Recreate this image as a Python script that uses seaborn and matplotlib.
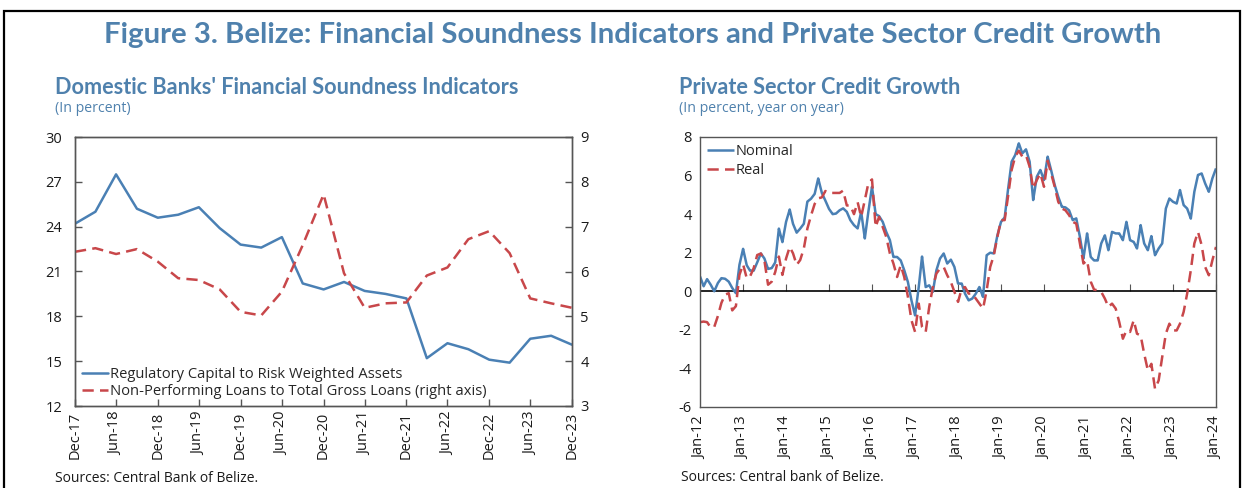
import numpy as np
import pandas as pd
import matplotlib
matplotlib.use("Agg")
import matplotlib.pyplot as plt
import matplotlib.dates as mdates
from matplotlib.patches import Rectangle
import seaborn as sns

# ---- data: left panel, quarterly Dec-17 .. Dec-23 ----
fsi_dates = pd.date_range("2017-12-31", periods=25, freq="QE")
car = [24.2, 25.0, 27.5, 25.2, 24.6, 24.8, 25.3, 23.9, 22.8, 22.6, 23.3, 20.2, 19.8,
       20.3, 19.7, 19.5, 19.2, 15.2, 16.2, 15.8, 15.1, 14.9, 16.5, 16.7, 16.1]
npl = [6.44, 6.52, 6.39, 6.50, 6.22, 5.85, 5.81, 5.60, 5.10, 5.02, 5.55, 6.59, 7.72,
       5.96, 5.19, 5.29, 5.31, 5.91, 6.09, 6.72, 6.90, 6.41, 5.40, 5.29, 5.19]
fsi_labels = ["Regulatory Capital to Risk Weighted Assets",
              "Non-Performing Loans to Total Gross Loans (right axis)"]

# ---- data: right panel, monthly Jan-12 .. Jan-24 ----
credit_dates = pd.date_range("2012-01-01", periods=145, freq="MS")
nominal = [0.77, 0.26, 0.63, 0.34, 0.0, 0.43, 0.68, 0.65, 0.5, 0.17, -0.1, 1.37,
           2.2, 1.35, 1.07, 1.07, 1.5, 1.96, 1.7, 1.16, 1.2, 1.5, 3.25, 2.55,
           3.6, 4.24, 3.5, 3.04, 3.25, 3.5, 4.65, 4.8, 5.05, 5.85, 5.1, 4.7,
           4.27, 4.0, 4.03, 4.2, 4.3, 4.12, 3.69, 3.43, 3.26, 4.12, 2.74, 4.12,
           5.42, 4.0, 3.9, 3.6, 3.08, 2.65, 1.78, 1.78, 1.6, 1.09, 0.48, -0.47,
           -1.25, 0.22, 1.8, 0.22, 0.31, -0.03, 1.09, 1.7, 1.96, 1.44, 1.64, 1.26,
           0.4, 0.4, -0.12, -0.47, -0.38, -0.12, 0.22, -0.29, 1.87, 2.0, 1.96, 2.9,
           3.6, 3.83, 5.25, 6.72, 7.06, 7.67, 7.15, 7.36, 6.72, 4.73, 5.94, 6.29,
           5.77, 6.98, 6.29, 5.51, 4.9, 4.38, 4.35, 4.2, 3.69, 3.78, 2.82, 1.7,
           3.0, 1.78, 1.6, 1.6, 2.48, 2.9, 2.13, 3.08, 3.0, 3.0, 2.65, 3.6,
           2.65, 2.56, 2.22, 3.43, 2.48, 2.13, 2.86, 1.87, 2.22, 2.48, 4.29, 4.81,
           4.64, 4.55, 5.25, 4.47, 4.29, 3.77, 5.16, 6.03, 6.11, 5.59, 5.16, 5.85,
           6.37]
real = [-1.6, -1.57, -1.6, -1.88, -1.85, -1.28, -0.6, -0.17, -0.1, -0.99, -0.77, 0.85,
        1.4, 0.68, 0.77, 1.2, 1.88, 1.96, 1.6, 0.34, 0.5, 1.0, 1.8, 0.85,
        1.7, 2.3, 1.97, 1.37, 1.62, 2.22, 3.25, 3.93, 4.53, 4.82, 4.87, 5.2,
        5.1, 5.1, 5.1, 5.1, 5.22, 4.45, 4.45, 4.0, 4.62, 3.86, 4.73, 5.6,
        5.8, 3.34, 3.86, 3.34, 2.82, 1.96, 1.44, 0.74, 1.35, 0.74, -0.29, -1.5,
        -2.11, -0.64, -1.85, -2.11, -0.81, 0.22, 0.92, 1.18, 1.26, 0.83, 0.48, -0.03,
        -0.55, 0.14, 0.22, -0.12, -0.12, -0.38, -0.64, -0.9, 0.05, 1.26, 1.87, 2.82,
        3.69, 3.69, 4.9, 6.29, 6.98, 7.29, 6.98, 7.06, 6.46, 5.33, 5.77, 6.11,
        5.42, 6.77, 6.11, 5.42, 4.64, 4.29, 4.2, 3.95, 3.6, 3.51, 2.48, 1.44,
        1.6, 0.5, 0.09, 0.05, -0.03, -0.38, -0.81, -0.64, -0.9, -1.59, -2.46, -2.03,
        -2.11, -1.5, -2.2, -2.29, -3.24, -4.1, -3.76, -5.06, -4.62, -3.41, -2.2, -1.68,
        -2.03, -2.03, -1.68, -1.07, -0.12, 1.09, 2.48, 3.08, 2.39, 1.26, 0.83, 1.6,
        2.3]
credit_labels = ["Nominal", "Real"]

BLUE = "#4a80b4"
RED = "#c8474a"
HEAD = "#4f81ad"
TXT = "#1a1a1a"

sns.set_style("ticks")
plt.rcParams["font.family"] = ["Open Sans", "DejaVu Sans"]
plt.rcParams["axes.unicode_minus"] = False

fig = plt.figure(figsize=(12.46, 4.88), dpi=100)

# outer frame
fig.patches.append(Rectangle((4 / 1246, -0.1), 1236 / 1246, 1.1 - 11 / 488,
                             transform=fig.transFigure, fill=False,
                             edgecolor="black", linewidth=1.6))

fig.text(633 / 1246, 1 - 35 / 488, "Figure 3. Belize: Financial Soundness Indicators and Private Sector Credit Growth",
         ha="center", va="center", fontsize=21.2, fontweight="bold", color=HEAD,
         family=["Lato", "DejaVu Sans"])

fig.text(55 / 1246, 1 - 87 / 488, "Domestic Banks' Financial Soundness Indicators",
         ha="left", va="center", fontsize=15.6, fontweight="bold", color=HEAD,
         family=["Lato", "DejaVu Sans"])
fig.text(55 / 1246, 1 - 108 / 488, "(In percent)", ha="left", va="center",
         fontsize=10.2, color=HEAD)
fig.text(679 / 1246, 1 - 87 / 488, "Private Sector Credit Growth",
         ha="left", va="center", fontsize=15.6, fontweight="bold", color=HEAD,
         family=["Lato", "DejaVu Sans"])
fig.text(679 / 1246, 1 - 108 / 488, "(In percent, year on year)", ha="left", va="center",
         fontsize=10.2, color=HEAD)

fig.text(55 / 1246, 1 - 471 / 488, "Sources: Central Bank of Belize.", ha="left", va="top",
         fontsize=10, color=TXT)
fig.text(681 / 1246, 1 - 470 / 488, "Sources: Central bank of Belize.", ha="left", va="top",
         fontsize=10, color=TXT)

# ---------------- left panel ----------------
ax1 = fig.add_axes([75 / 1246, 1 - 406 / 488, 497 / 1246, 269 / 488])
ax2 = ax1.twinx()
fsi = pd.DataFrame({"date": fsi_dates, "car": car, "npl": npl})
sns.lineplot(data=fsi, x="date", y="car", ax=ax1, color=BLUE, linewidth=1.8,
             label=fsi_labels[0], legend=False)
sns.lineplot(data=fsi, x="date", y="npl", ax=ax2, color=RED, linewidth=1.8,
             dashes=False, label=fsi_labels[1], legend=False)
ax2.lines[0].set_dashes((4.5, 2.5))

ax1.set_ylim(12, 30)
ax1.set_yticks(np.arange(12, 31, 3))
ax2.set_ylim(3, 9)
ax2.set_yticks(np.arange(3, 10, 1))
ax1.set_xlim(fsi_dates[0], fsi_dates[-1])
ax1.set_xticks(fsi_dates[::2])
ax1.xaxis.set_major_formatter(mdates.DateFormatter("%b-%y"))
for a in (ax1, ax2):
    a.set_xlabel("")
    a.set_ylabel("")
    a.tick_params(direction="in", length=5, width=1, labelsize=10.5, colors="#555555",
                  labelcolor=TXT)
    for s in a.spines.values():
        s.set_color("#555555")
        s.set_linewidth(1)
ax1.tick_params(axis="x", rotation=90, pad=4)
ax1.tick_params(axis="y", pad=9)
ax2.tick_params(axis="y", pad=6)

h1, l1 = ax1.get_legend_handles_labels()
h2, l2 = ax2.get_legend_handles_labels()
ax1.legend(h1 + h2, l1 + l2, loc="lower left", frameon=False, fontsize=10.6,
           handlelength=1.8, handletextpad=0.15, labelspacing=0.15,
           borderaxespad=0.05, bbox_to_anchor=(0.0, 0.0))

# ---------------- right panel ----------------
ax3 = fig.add_axes([700 / 1246, 1 - 407 / 488, 516 / 1246, 270 / 488])
credit = pd.DataFrame({"date": credit_dates, "Nominal": nominal, "Real": real})
long = credit.melt(id_vars="date", var_name="series", value_name="value")
sns.lineplot(data=long, x="date", y="value", hue="series", style="series",
             palette=[BLUE, RED], dashes=[(1, 0), (4.5, 2.5)], linewidth=1.8, ax=ax3)
ax3.set_ylim(-6, 8)
ax3.set_yticks(np.arange(-6, 9, 2))
ax3.set_xlim(credit_dates[0], credit_dates[-1])
ax3.set_xticks(credit_dates[::12])
ax3.xaxis.set_major_formatter(mdates.DateFormatter("%b-%y"))
ax3.set_xlabel("")
ax3.set_ylabel("")
ax3.tick_params(axis="x", rotation=90, length=0, pad=7, labelsize=10.5, labelcolor=TXT)
ax3.tick_params(axis="y", direction="in", length=0, labelsize=10.5, labelcolor=TXT, pad=6)
for s in ax3.spines.values():
    s.set_color("#555555")
    s.set_linewidth(1)
ax3.axhline(0, color="black", linewidth=1.2, zorder=1)
zero_ax = ax3.secondary_xaxis(6 / 14)
zero_ax.set_xticks(credit_dates[::12])
zero_ax.tick_params(axis="x", direction="in", length=5, labelbottom=False,
                    labeltop=False, colors="#555555")
zero_ax.spines["top"].set_visible(False)
zero_ax.spines["bottom"].set_visible(False)

ax3.legend(loc="upper left", frameon=False, fontsize=10.5, title=None,
           handlelength=1.8, handletextpad=0.15, labelspacing=0.25,
           borderaxespad=0.1, bbox_to_anchor=(0.0, 1.0))

fig.savefig("out.png", dpi=100)
